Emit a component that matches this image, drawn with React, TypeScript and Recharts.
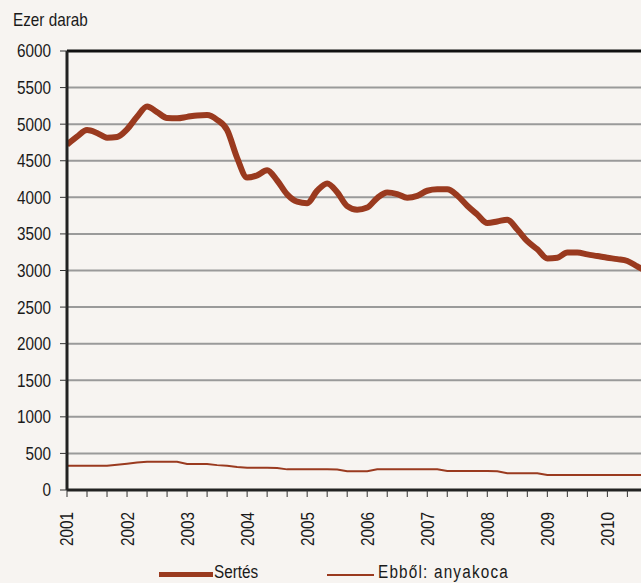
import React from 'react';
import { LineChart, Line, XAxis, YAxis, CartesianGrid, Legend, ReferenceLine } from 'recharts';

// Sertésállomány, ezer darab, kéthavi leolvasás 2001 januártól
const sertes = [
  4720, 4830, 4920, 4880, 4815, 4825, 4930, 5100, 5240, 5165,
  5085, 5080, 5100, 5120, 5125, 5060, 4920, 4540, 4270, 4300,
  4370, 4230, 4040, 3940, 3920, 4090, 4190, 4070, 3880, 3830,
  3860, 3990, 4065, 4045, 3995, 4020, 4090, 4110, 4110, 4025,
  3885, 3765, 3650, 3670, 3695, 3560, 3400, 3290, 3165, 3175,
  3245, 3245, 3220, 3198, 3175, 3155, 3130, 3055, 2980,
];
const anyakoca = [
  330, 330, 330, 330, 330, 345, 360, 375, 385, 385,
  385, 385, 355, 355, 355, 340, 330, 315, 305, 305,
  305, 300, 282, 282, 282, 282, 282, 280, 255, 255,
  255, 282, 282, 282, 282, 282, 282, 282, 260, 260,
  260, 260, 260, 255, 230, 230, 230, 230, 205, 205,
  205, 205, 205, 205, 205, 205, 205, 205, 205,
];
const years = [2001, 2002, 2003, 2004, 2005, 2006, 2007, 2008, 2009, 2010];
const yTicks = [0, 500, 1000, 1500, 2000, 2500, 3000, 3500, 4000, 4500, 5000, 5500, 6000];

const X_MAX = 2010.56;
const xTicks = years.flatMap((y) => [y, y + 1 / 3, y + 2 / 3]).filter((t) => t <= X_MAX);
const data = sertes.map((v, i) => ({ t: 2001 + i / 6, sertes: v, anyakoca: anyakoca[i] }));

// no narrow font installed, so squeeze Liberation Sans horizontally
const FONT = '"Liberation Sans", Arial, sans-serif';
const SQ = 0.85;
const BG = '#f7f4f1';
const RED = '#9a3a1f';
const INK = '#1a1a1a';

const YearTick = ({ x, y, payload }: any) => {
  const v = payload.value;
  if (Math.abs(v - Math.round(v)) > 0.01) return null;
  return (
    <text transform={`translate(${x},${y + 13}) rotate(-90) scale(${SQ},1)`} textAnchor="end" dy="0.36em"
      fontSize={18} fill={INK} fontFamily={FONT}>
      {Math.round(v)}
    </text>
  );
};

const ValueTick = ({ x, y, payload }: any) => (
  <text transform={`translate(${x - 1},${y}) scale(${SQ},1)`} textAnchor="end" dy="0.36em"
    fontSize={18} fill={INK} fontFamily={FONT}>
    {payload.value}
  </text>
);

const squeeze: React.CSSProperties = {
  position: 'absolute', top: 0, transform: `scaleX(${SQ})`, transformOrigin: 'left top', whiteSpace: 'nowrap',
};

const LegendBox = () => (
  <div style={{ position: 'relative', height: 24, fontFamily: FONT, fontSize: 18, color: INK }}>
    <div style={{ position: 'absolute', left: 159, top: 10, width: 54, height: 5, background: RED }} />
    <span style={{ ...squeeze, left: 214 }}>Sertés</span>
    <div style={{ position: 'absolute', left: 327, top: 12, width: 47, height: 1.5, background: RED }} />
    <span style={{ ...squeeze, left: 378, letterSpacing: 1.4 }}>Ebből: anyakoca</span>
  </div>
);

export default function App() {
  return (
    <div style={{ position: 'absolute', left: 0, top: 0, width: 641, height: 583, overflow: 'hidden', background: BG }}>
      <LineChart width={641} height={583} data={data} margin={{ top: 51, right: 0, left: 0, bottom: 9 }}>
        <CartesianGrid horizontal vertical={false} stroke="#9a9a9a" strokeWidth={2} />
        <XAxis dataKey="t" type="number" domain={[2001, X_MAX]} allowDataOverflow ticks={xTicks}
          interval={0} height={60} tickSize={7} tick={<YearTick />}
          axisLine={{ stroke: '#222', strokeWidth: 3 }} tickLine={{ stroke: '#333', strokeWidth: 1 }} />
        <YAxis domain={[0, 6000]} ticks={yTicks} interval={0} width={67} tickSize={7} tickMargin={8}
          axisLine={{ stroke: '#222', strokeWidth: 3 }} tickLine={{ stroke: '#333', strokeWidth: 1 }}
          tick={<ValueTick />}
          label={({ viewBox }: any) => (
            <text transform={`translate(13,${viewBox.y - 25}) scale(${SQ},1)`} fontSize={18} fill={INK}
              fontFamily={FONT}>Ezer darab</text>
          )} />
        <ReferenceLine y={6000} stroke="#111" strokeWidth={3} />
        <Line dataKey="anyakoca" name="Ebből: anyakoca" stroke={RED} strokeWidth={2} dot={false}
          type="linear" isAnimationActive={false} />
        <Line dataKey="sertes" name="Sertés" stroke={RED} strokeWidth={6} dot={false}
          type="monotone" isAnimationActive={false} />
        <Legend content={<LegendBox />} wrapperStyle={{ position: 'absolute', left: 0, top: 562, width: 641 }} />
      </LineChart>
    </div>
  );
}
